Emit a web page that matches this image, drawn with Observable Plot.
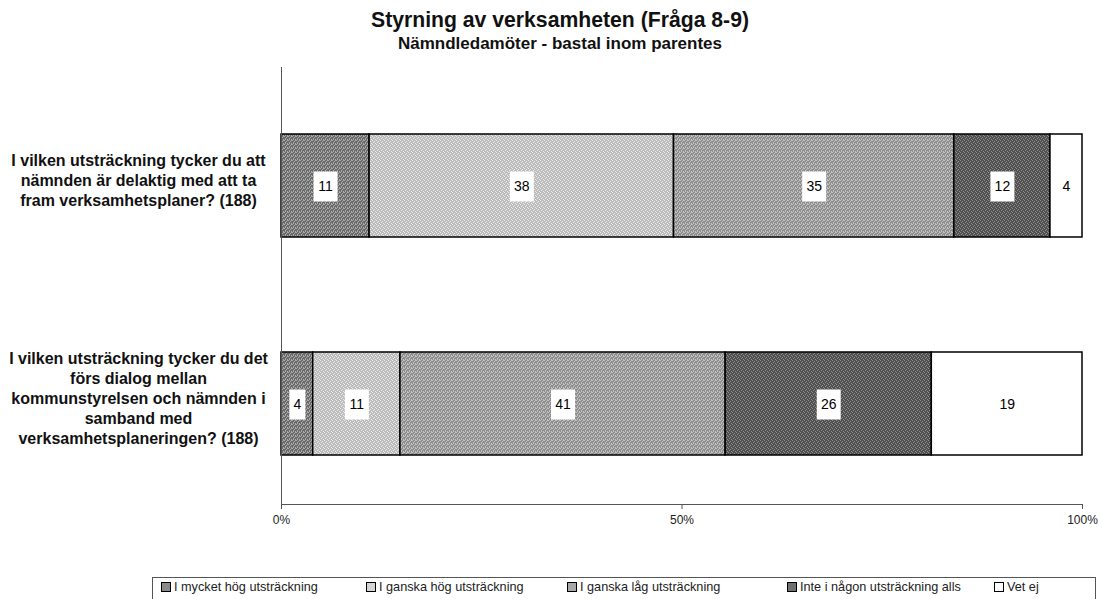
<!DOCTYPE html>
<html>
<head>
<meta charset="utf-8">
<script src="https://cdn.jsdelivr.net/npm/d3@7"></script>
<script src="https://cdn.jsdelivr.net/npm/@observablehq/plot@0.6"></script>
<style>
  html, body { margin: 0; padding: 0; background: #fff; }
  body { width: 1102px; height: 599px; position: relative; overflow: hidden; font-family: "Liberation Sans", Arial, sans-serif; }
  #title { position: absolute; left: 0; width: 1120px; top: 8px; text-align: center; font-weight: bold; font-size: 21.2px; color: #111; }
  #subtitle { position: absolute; left: 0; width: 1120px; top: 34px; text-align: center; font-weight: bold; font-size: 17px; color: #111; }
  #chart { position: absolute; left: 0; top: 0; }
  #legend { position: absolute; left: 152px; top: 577px; width: 944px; height: 24px; border: 1px solid #555; box-sizing: border-box; }
  .item { position: absolute; top: 2px; font-size: 12.7px; color: #222; white-space: nowrap; display: flex; align-items: center; }
  .sw { width: 8px; height: 8px; border: 1px solid #000; margin-right: 3px; display: inline-block; }
</style>
</head>
<body>
<div id="chart"></div>
<div id="title">Styrning av verksamheten (Fråga 8-9)</div>
<div id="subtitle">Nämndledamöter - bastal inom parentes</div>
<div id="legend"></div>
<script>
const questions = [
  "I vilken utsträckning tycker du att\nnämnden är delaktig med att ta\nfram verksamhetsplaner? (188)",
  "I vilken utsträckning tycker du det\nförs dialog mellan\nkommunstyrelsen och nämnden i\nsamband med\nverksamhetsplaneringen? (188)"
];
const categories = ["I mycket hög utsträckning", "I ganska hög utsträckning", "I ganska låg utsträckning", "Inte i någon utsträckning alls", "Vet ej"];
const q1Values = [11, 38, 35, 12, 4];
const q2Values = [4, 11, 41, 26, 19];
const xTicks = [0, 0.5, 1];
const xTickLabels = ["0%", "50%", "100%"];
const colors = ["#8a8a8a", "#d4d4d4", "#a8a8a8", "#707070", "#ffffff"];
const patternColors = [["#6a6a6a", "#aaaaaa"], ["#bcbcbc", "#ececec"], ["#8e8e8e", "#c2c2c2"], ["#505050", "#909090"], ["#ffffff", "#ffffff"]];

const data = [];
[q1Values, q2Values].forEach((vals, qi) => {
  vals.forEach((v, ci) => data.push({q: questions[qi], cat: categories[ci], value: v, label: String(v)}));
});

const boxSym = (w, h) => ({draw(ctx) { ctx.rect(-w / 2, -h / 2, w, h); }});
const stackOpts = {x: "value", y: "q", z: "cat", offset: "normalize", order: categories};

const chart = Plot.plot({
  width: 1102,
  height: 560,
  marginTop: 67,
  marginBottom: 56,
  marginLeft: 281,
  marginRight: 20,
  style: {fontFamily: "Liberation Sans, Arial, sans-serif", background: "transparent"},
  x: {domain: [0, 1], label: null, axis: null},
  y: {domain: questions, padding: 0, label: null, axis: null},
  color: {domain: categories, range: categories.map((c, i) => `url(#pat${i})`)},
  symbol: {domain: ["1", "2"], range: [boxSym(16, 30), boxSym(24, 30)]},
  marks: [
    Plot.barX(data, Plot.stackX({...stackOpts, fill: "cat", stroke: "#000", strokeWidth: 1.5, insetTop: 66, insetBottom: 49})),
    Plot.dot(data, Plot.stackX({...stackOpts, symbol: d => String(d.label.length), fill: "#fff", stroke: "none", r: 1, dy: 9})),
    Plot.text(data, Plot.stackX({...stackOpts, text: "label", fontSize: 14, fill: "#000", dy: 9})),
    Plot.ruleX([0], {stroke: "#555"}),
    Plot.axisX({ticks: xTicks, tickFormat: (d) => xTickLabels[xTicks.indexOf(d)], fontSize: 12, tickSize: 5, tickPadding: 6, fill: "#222", stroke: "#555"}),
    Plot.frame({anchor: "bottom", stroke: "#555"}),
    Plot.axisY({tickSize: 0, tickPadding: 0, textAnchor: "middle", dx: -143, dy: 2, fontSize: 16, fontWeight: "bold", fill: "#111", lineHeight: 1.25})
  ]
});

// pattern definitions (Excel-like dithered fills)
const ns = "http://www.w3.org/2000/svg";
const defs = document.createElementNS(ns, "defs");
patternColors.forEach(([a, b], i) => {
  const p = document.createElementNS(ns, "pattern");
  p.setAttribute("id", `pat${i}`);
  p.setAttribute("patternUnits", "userSpaceOnUse");
  p.setAttribute("width", "4");
  p.setAttribute("height", "4");
  const bg = document.createElementNS(ns, "rect");
  bg.setAttribute("width", "4"); bg.setAttribute("height", "4"); bg.setAttribute("fill", a);
  p.appendChild(bg);
  [[0, 0], [2, 1], [1, 2], [3, 3], [3, 0], [1, 3]].forEach(([x, y], k) => {
    if (k >= 4 && i % 2 === 1) return;
    const r = document.createElementNS(ns, "rect");
    r.setAttribute("x", x); r.setAttribute("y", y); r.setAttribute("width", "1"); r.setAttribute("height", "1"); r.setAttribute("fill", b);
    p.appendChild(r);
  });
  defs.appendChild(p);
});
chart.insertBefore(defs, chart.firstChild);
document.getElementById("chart").appendChild(chart);

const legendX = [8, 213, 414, 634, 841];
const legend = document.getElementById("legend");
categories.forEach((c, i) => {
  const it = document.createElement("div");
  it.className = "item";
  it.style.left = legendX[i] + "px";
  it.innerHTML = `<span class="sw" style="background:${colors[i]}"></span>${c}`;
  legend.appendChild(it);
});
</script>
</body>
</html>
